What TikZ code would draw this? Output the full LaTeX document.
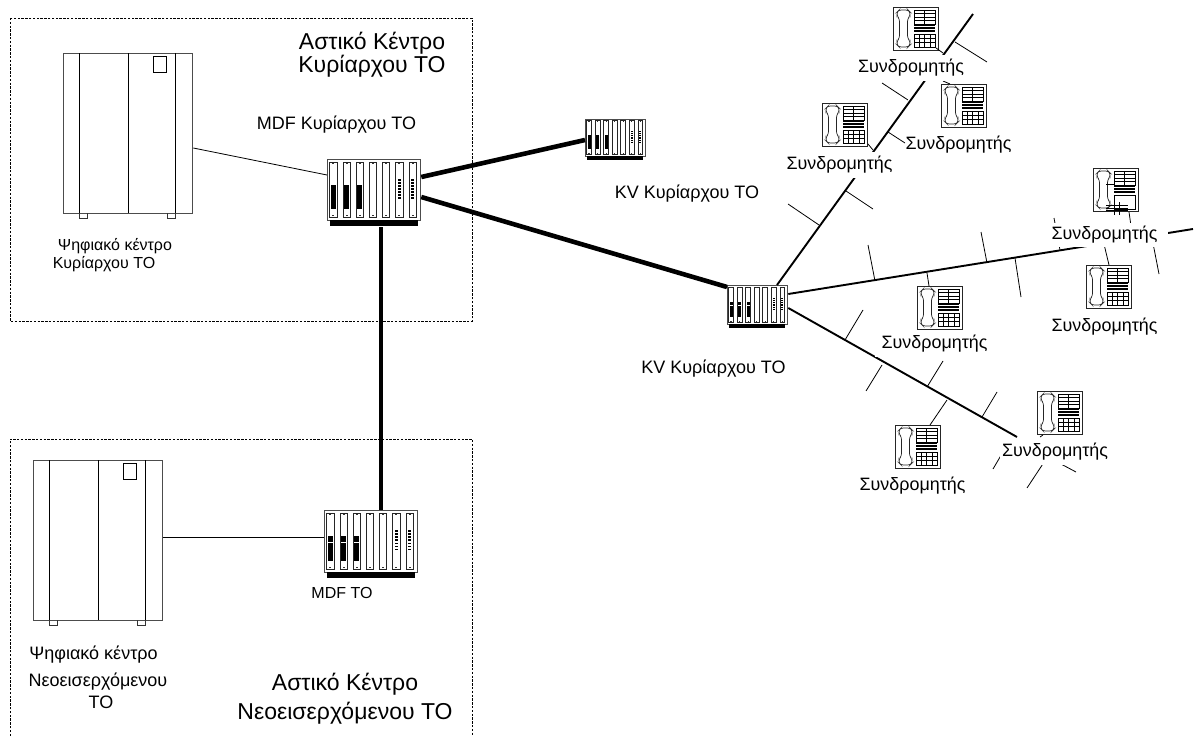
\documentclass[tikz,border=0pt]{standalone}
\usepackage{fontspec}
\setmainfont{Liberation Sans}
\tikzset{
  x=1pt,y=-1pt,
  heavyline/.style={line width=4.6pt,black},
  trunkline/.style={line width=1.9pt,black},
  thinline/.style={line width=0.8pt,black},
  areabox/.style={line width=0.8pt,dash pattern=on 2.4pt off 1.4pt,black},
  unitbox/.style={rectangle,draw=black!70,line width=1.3pt,fill=white,inner sep=0pt,anchor=north west},
  phonebox/.style={rectangle,draw=black!85,line width=1pt,fill=white,inner sep=0pt,anchor=north west,minimum width=45pt,minimum height=43pt},
  sublabel/.style={fill=white,inner xsep=7pt,inner ysep=0pt,minimum height=26pt,font=\fontsize{17.9}{21}\selectfont},
  smalltext/.style={inner sep=0pt,font=\fontsize{18}{21}\selectfont},
  midtext/.style={inner sep=0pt,font=\fontsize{16}{19}\selectfont},
  bigtext/.style={inner sep=0pt,align=center,font=\fontsize{23}{23}\selectfont},
  bigtextwide/.style={inner sep=0pt,align=center,font=\fontsize{23}{29}\selectfont},
}
\newcommand{\rackunit}[5]{% name x y w h
  \node[unitbox,minimum width=#4pt,minimum height=#5pt] (#1) at (#2,#3) {};
  \pgfmathsetmacro{\rsx}{#4/93}\pgfmathsetmacro{\rsy}{#5/61}
  \begin{scope}[shift={(#2,#3)},xscale=\rsx,yscale=\rsy]
    \fill[black] (2.5,61) rectangle (90.5,67);
    \foreach \i in {0,...,6}{
      \pgfmathsetmacro{\sx}{2.8+13.2*\i}
      \begin{scope}[shift={(\sx,3)}]
        \draw[black!85,line width=0.8pt] (0,0) rectangle (7.2,55);
        \fill[black!80] (2.6,0.6) rectangle (4.6,2.2);
        \fill[black!80] (2.6,52.8) rectangle (4.6,54.4);
      \end{scope}
    }
    \foreach \i in {0,1,2}{
      \pgfmathsetmacro{\sx}{2.8+13.2*\i}
      \foreach \r in {0,1,2,3}{
        \fill[black] (\sx+1.2,26+6.1*\r) rectangle (\sx+6,31.9+6.1*\r);
      }
    }
    \foreach \i in {5,6}{
      \pgfmathsetmacro{\sx}{2.8+13.2*\i}
      \foreach \r in {0,...,6}{
        \fill[black] (\sx+2.2,20+3*\r) rectangle (\sx+5,21.6+3*\r);
      }
    }
  \end{scope}
}
\newcommand{\cabinet}[3]{% name x y
  \node[unitbox,draw=black!70,minimum width=129pt,minimum height=160pt] (#1) at (#2,#3) {};
  \begin{scope}[shift={(#2,#3)}]
    \draw[black,line width=0.9pt] (16,0) -- (16,160) (65,0) -- (65,160) (112,0) -- (112,160);
    \draw[black,line width=0.8pt] (90,3) rectangle (103,19);
    \draw[black!80,line width=0.8pt] (16,160) -- (16,165) -- (24.5,165) -- (24.5,160);
    \draw[black!80,line width=0.8pt] (104,160) -- (104,165) -- (112.5,165) -- (112.5,160);
  \end{scope}
}
\newcommand{\phoneunit}[3]{% name x y
  \node[phonebox] (#1) at (#2,#3) {};
  \begin{scope}[shift={(#2,#3)}]
    \draw[black!85,line width=0.7pt,rounded corners=2.4pt]
      (6,3) -- (15,3) -- (17,5) -- (17,9) -- (14.5,12) -- (14.5,31) -- (17,34) -- (17,38) -- (15,40)
      -- (6,40) -- (4,38) -- (4,34) -- (6.5,31) -- (6.5,12) -- (4,9) -- (4,5) -- cycle;
    \draw[black,line width=0.6pt] (21,3) rectangle (42,17) (31.5,3) -- (31.5,17);
    \foreach \yy in {6.5,10,13.5}{\draw[black,line width=0.6pt] (21,\yy) -- (42,\yy);}
    \foreach \yy in {18.5,20,21.5,23,24.5}{\draw[black,line width=0.7pt] (21,\yy) -- (42,\yy);}
    \draw[black,line width=0.6pt] (21,27) rectangle (42,40);
    \foreach \yy in {31.3,35.6}{\draw[black,line width=0.6pt] (21,\yy) -- (42,\yy);}
    \foreach \xx in {26,31.5,37}{\draw[black,line width=0.6pt] (\xx,27) -- (\xx,40);}
  \end{scope}
}
\newcommand{\branch}[3]{% name from to
  \coordinate (#1a) at (#2);
  \coordinate (#1b) at (#3);
  \draw[thinline] (#1a) -- (#1b);
}
\begin{document}
\begin{tikzpicture}
\useasboundingbox (0,0) rectangle (1196,736);
\fill[white] (0,0) rectangle (1196,736);

% area boxes
\draw[areabox] (10,18) rectangle (472,321);
\draw[areabox] (10,736) -- (10,439) -- (472,439) -- (472,736);

% equipment
\cabinet{cabA}{63}{53}
\cabinet{cabB}{33}{460}
\rackunit{mdfA}{327}{159}{93}{61}
\rackunit{mdfB}{324}{510}{93}{62}
\rackunit{kvS}{585}{119}{60}{37}
\rackunit{kvB}{727}{285}{60}{39}

% free ends of the trunks
\coordinate (endA) at (973,14);
\coordinate (endB) at (1193,229);
\coordinate (endC) at (1017,437);

% heavy links
\draw[heavyline] ([yshift=-18pt]mdfA.north east) -- ([yshift=-21pt]kvS.north west);
\draw[heavyline] ([yshift=-38pt]mdfA.north east) -- ([yshift=-2pt]kvB.north west);
\draw[heavyline] ([xshift=54pt,yshift=-6pt]mdfA.south west) -- ([xshift=57pt]mdfB.north west);

% thin links
\draw[thinline] ([yshift=-95pt]cabA.north east) -- ([yshift=-16pt]mdfA.north west);
\draw[thinline] ([yshift=-77pt]cabB.north east) -- ([yshift=-27pt]mdfB.north west);

% trunks
\draw[trunkline] ([xshift=50pt]kvB.north west) -- (endA);
\draw[trunkline] ([yshift=-9pt]kvB.north east) -- (endB);
\draw[trunkline] ([yshift=-23pt]kvB.north east) -- (endC);

% branches, trunk A
\branch{aa}{955,42}{987,62}
\branch{ab}{882,83}{908,100}
\branch{ac}{888,132}{905,143}
\branch{ad}{846,191}{873,209}
\branch{ae}{788,204}{819,225}
\branch{af}{943,81}{950,84}
% branches, trunk B
\branch{ba}{868,245}{875,281}
\branch{bb}{981,232}{987,263}
\branch{bc}{1015,258}{1021,297}
\branch{bd}{1054,218}{1060,250}
\branch{be}{1150,228}{1159,274}
% branches, trunk C
\branch{ca}{863,310}{845,340}
\branch{cb}{882,365}{866,391}
\branch{cc}{943,361}{927,387}
\branch{cd}{997,392}{982,417}
\branch{ce}{1061,464}{1076,472}
\branch{cf}{1010,440}{993,469}
\branch{cg}{1056,444}{1027,488}

% telephones
\phoneunit{ph1}{893}{7}
\phoneunit{ph2}{941}{84}
\phoneunit{ph3}{822}{103}
\phoneunit{ph4}{1093}{168}
\phoneunit{ph5}{1086}{265}
\phoneunit{ph6}{917}{286}
\phoneunit{ph7}{895}{425}
\phoneunit{ph8}{1037}{391}

% phone stubs
\coordinate (tapA1) at (943,53);
\coordinate (tapA3) at (873,150);
\coordinate (tapB4) at (1131,226);
\coordinate (tapB5) at (1103,240);
\coordinate (tapB6) at (927,273);
\coordinate (tapC7) at (947,400);
\coordinate (tapC8) at (1040,437);
\draw[thinline] ([xshift=-3pt,yshift=3pt]ph1.south east) -- (tapA1);
\draw[thinline] ([yshift=3pt]ph3.south east) -- (tapA3);
\draw[thinline] ([xshift=-10pt]ph4.south east) -- (tapB4);
\draw[thinline] ([xshift=23pt]ph5.north west) -- (tapB5);
\draw[thinline] ([xshift=12pt]ph6.north west) -- (tapB6);
\draw[thinline] ([xshift=35pt]ph7.north west) -- (tapC7);
\draw[thinline] ([xshift=6pt]ph8.south west) -- (tapC8);

% overprint on the fourth telephone
\begin{scope}[shift={(1093,168)}]
  \fill[white] (20.5,26.5) rectangle (42.5,40.5);
  \draw[black,line width=0.7pt] (21,27) rectangle (42,41);
  \draw[black,line width=0.8pt] (13,16) -- (22,16);
  \foreach \yy in {37,40,42}{\draw[black,line width=0.8pt] (13,\yy) -- (35,\yy);}
  \foreach \xx in {21,26.5}{\draw[black,line width=0.8pt] (\xx,34) -- (\xx,47);}
\end{scope}

% subscriber labels
\node[sublabel] (s1) at (911,68) {Συνδρομητής};
\node[sublabel,inner xsep=0pt] (s2) at (958.5,145) {Συνδρομητής};
\node[sublabel] (s3) at (839.5,165) {Συνδρομητής};
\node[sublabel,inner xsep=11pt,minimum height=24pt] (s4) at (1104.5,235) {Συνδρομητής};
\node[sublabel] (s5) at (1104.5,327) {Συνδρομητής};
\node[sublabel] (s6) at (934.5,344) {Συνδρομητής};
\node[sublabel] (s7) at (912.5,486) {Συνδρομητής};
\node[sublabel,inner xsep=2pt] (s8) at (1055,452) {Συνδρομητής};

% other texts
\node[bigtext] (t1) at (372,54.5) {Αστικό Κέντρο\\Κυρίαρχου ΤΟ};
\node[bigtextwide] (t2) at (345,699) {Αστικό Κέντρο\\Νεοεισερχόμενου ΤΟ};
\node[smalltext] (t3) at (336.5,125) {MDF Κυρίαρχου ΤΟ};
\node[smalltext] (t4) at (687,194) {KV Κυρίαρχου ΤΟ};
\node[smalltext] (t5) at (713.5,369) {KV Κυρίαρχου ΤΟ};
\node[midtext] (t6) at (115,246) {Ψηφιακό κέντρο};
\node[midtext] (t7) at (104,264) {Κυρίαρχου ΤΟ};
\node[midtext] (t8) at (342,593) {MDF ΤΟ};
\node[smalltext] (t9) at (93.5,655) {Ψηφιακό κέντρο};
\node[smalltext] (t10) at (98,682) {Νεοεισερχόμενου};
\node[smalltext] (t11) at (101,702) {ΤΟ};
\end{tikzpicture}
\end{document}
